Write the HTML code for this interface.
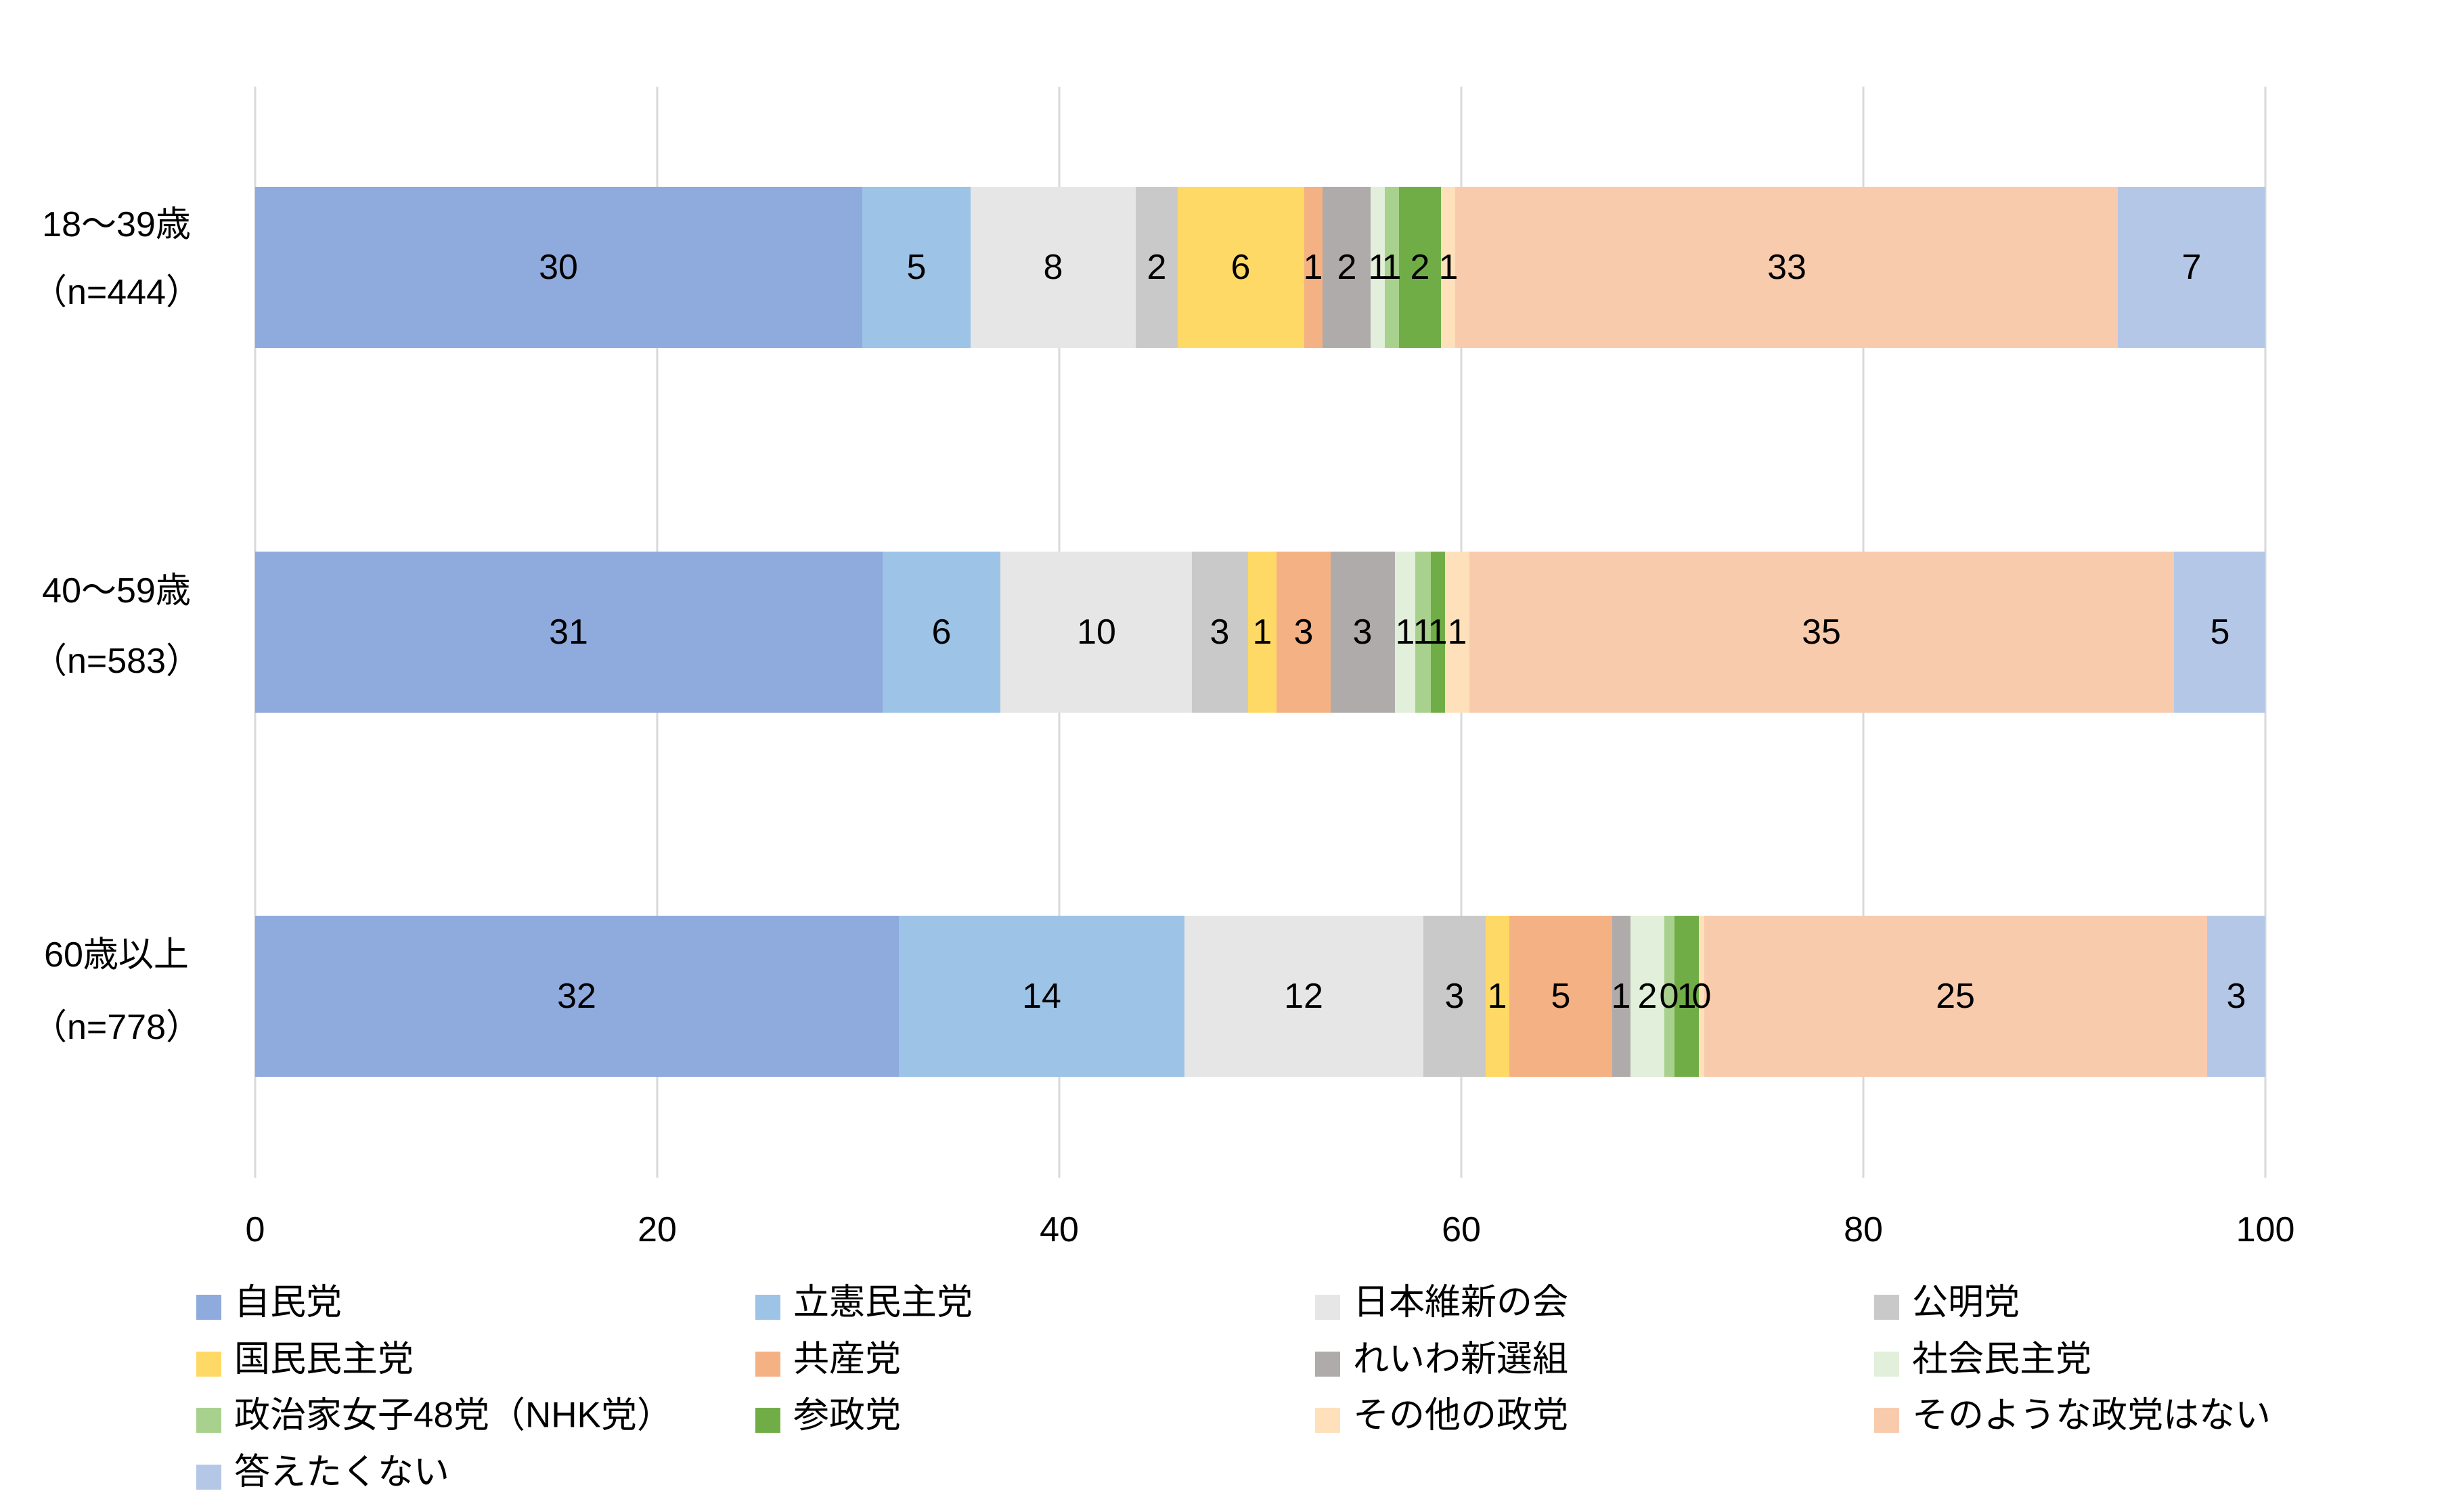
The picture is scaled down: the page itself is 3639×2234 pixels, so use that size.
<!DOCTYPE html>
<html><head><meta charset="utf-8"><style>
html,body{margin:0;padding:0;background:#fff}
svg text{font-family:"Liberation Sans","Noto Sans CJK JP",sans-serif;fill:#000}
</style></head><body>
<svg width="3639" height="2229" xmlns="http://www.w3.org/2000/svg">
<g stroke="#d9d9d9" stroke-width="3">
<line x1="377" y1="128" x2="377" y2="1740"/><line x1="971" y1="128" x2="971" y2="1740"/>
<line x1="1565" y1="128" x2="1565" y2="1740"/><line x1="2159" y1="128" x2="2159" y2="1740"/>
<line x1="2753" y1="128" x2="2753" y2="1740"/><line x1="3347" y1="128" x2="3347" y2="1740"/>
</g>
<g>
<rect x="377" y="276" width="897" height="238" fill="#8faadc"/>
<rect x="1274" y="276" width="160" height="238" fill="#9dc3e6"/>
<rect x="1434" y="276" width="244" height="238" fill="#e6e6e6"/>
<rect x="1678" y="276" width="62" height="238" fill="#c9c9c9"/>
<rect x="1740" y="276" width="187" height="238" fill="#ffd966"/>
<rect x="1927" y="276" width="27" height="238" fill="#f4b183"/>
<rect x="1954" y="276" width="71" height="238" fill="#afabab"/>
<rect x="2025" y="276" width="21" height="238" fill="#e2efda"/>
<rect x="2046" y="276" width="21" height="238" fill="#a9d18e"/>
<rect x="2067" y="276" width="62" height="238" fill="#70ad47"/>
<rect x="2129" y="276" width="21" height="238" fill="#fee0bb"/>
<rect x="2150" y="276" width="979" height="238" fill="#f8cbad"/>
<rect x="3129" y="276" width="218" height="238" fill="#b4c7e7"/>
</g>
<g>
<rect x="377" y="815" width="927" height="238" fill="#8faadc"/>
<rect x="1304" y="815" width="174" height="238" fill="#9dc3e6"/>
<rect x="1478" y="815" width="283" height="238" fill="#e6e6e6"/>
<rect x="1761" y="815" width="83" height="238" fill="#c9c9c9"/>
<rect x="1844" y="815" width="42" height="238" fill="#ffd966"/>
<rect x="1886" y="815" width="80" height="238" fill="#f4b183"/>
<rect x="1966" y="815" width="95" height="238" fill="#afabab"/>
<rect x="2061" y="815" width="30" height="238" fill="#e2efda"/>
<rect x="2091" y="815" width="23" height="238" fill="#a9d18e"/>
<rect x="2114" y="815" width="21" height="238" fill="#70ad47"/>
<rect x="2135" y="815" width="36" height="238" fill="#fee0bb"/>
<rect x="2171" y="815" width="1041" height="238" fill="#f8cbad"/>
<rect x="3212" y="815" width="135" height="238" fill="#b4c7e7"/>
</g>
<g>
<rect x="377" y="1353" width="951" height="238" fill="#8faadc"/>
<rect x="1328" y="1353" width="422" height="238" fill="#9dc3e6"/>
<rect x="1750" y="1353" width="353" height="238" fill="#e6e6e6"/>
<rect x="2103" y="1353" width="92" height="238" fill="#c9c9c9"/>
<rect x="2195" y="1353" width="35" height="238" fill="#ffd966"/>
<rect x="2230" y="1353" width="152" height="238" fill="#f4b183"/>
<rect x="2382" y="1353" width="27" height="238" fill="#afabab"/>
<rect x="2409" y="1353" width="50" height="238" fill="#e2efda"/>
<rect x="2459" y="1353" width="15" height="238" fill="#a9d18e"/>
<rect x="2474" y="1353" width="36" height="238" fill="#70ad47"/>
<rect x="2510" y="1353" width="8" height="238" fill="#fee0bb"/>
<rect x="2518" y="1353" width="743" height="238" fill="#f8cbad"/>
<rect x="3261" y="1353" width="86" height="238" fill="#b4c7e7"/>
</g>
<g font-size="52" text-anchor="middle" dominant-baseline="central">
<text x="825" y="395">30</text><text x="1354" y="395">5</text><text x="1556" y="395">8</text>
<text x="1709" y="395">2</text><text x="1833" y="395">6</text><text x="1940" y="395">1</text>
<text x="1990" y="395">2</text><text x="2036" y="395">1</text><text x="2056" y="395">1</text>
<text x="2098" y="395">2</text><text x="2140" y="395">1</text><text x="2640" y="395">33</text><text x="3238" y="395">7</text>

<text x="840" y="934">31</text><text x="1391" y="934">6</text><text x="1620" y="934">10</text>
<text x="1802" y="934">3</text><text x="1865" y="934">1</text><text x="1926" y="934">3</text>
<text x="2013" y="934">3</text><text x="2076" y="934">1</text><text x="2102" y="934">1</text>
<text x="2124" y="934">1</text><text x="2153" y="934">1</text><text x="2691" y="934">35</text><text x="3280" y="934">5</text>

<text x="852" y="1472">32</text><text x="1539" y="1472">14</text><text x="1926" y="1472">12</text>
<text x="2149" y="1472">3</text><text x="2212" y="1472">1</text><text x="2306" y="1472">5</text>
<text x="2395" y="1472">1</text><text x="2434" y="1472">2</text><text x="2466" y="1472">0</text>
<text x="2492" y="1472">1</text><text x="2514" y="1472">0</text><text x="2889" y="1472">25</text><text x="3304" y="1472">3</text>
</g>
<g font-size="52" text-anchor="middle" dominant-baseline="central">
<text x="172" y="332">18～39歳</text><text x="172" y="432">（n=444）</text>
<text x="172" y="873">40～59歳</text><text x="172" y="977">（n=583）</text>
<text x="172" y="1411">60歳以上</text><text x="172" y="1518">（n=778）</text>
<text x="377" y="1817">0</text><text x="971" y="1817">20</text><text x="1565" y="1817">40</text>
<text x="2159" y="1817">60</text><text x="2753" y="1817">80</text><text x="3347" y="1817">100</text>
</g>
<g font-size="53" dominant-baseline="central">
<rect x="290" y="1913" width="37" height="37" fill="#8faadc"/><text x="346" y="1924">自民党</text>
<rect x="1116" y="1913" width="37" height="37" fill="#9dc3e6"/><text x="1172" y="1924">立憲民主党</text>
<rect x="1943" y="1913" width="37" height="37" fill="#e6e6e6"/><text x="1999" y="1924">日本維新の会</text>
<rect x="2769" y="1913" width="37" height="37" fill="#c9c9c9"/><text x="2825" y="1924">公明党</text>
<rect x="290" y="1997" width="37" height="37" fill="#ffd966"/><text x="346" y="2008">国民民主党</text>
<rect x="1116" y="1997" width="37" height="37" fill="#f4b183"/><text x="1172" y="2008">共産党</text>
<rect x="1943" y="1997" width="37" height="37" fill="#afabab"/><text x="1999" y="2008">れいわ新選組</text>
<rect x="2769" y="1997" width="37" height="37" fill="#e2efda"/><text x="2825" y="2008">社会民主党</text>
<rect x="290" y="2080" width="37" height="37" fill="#a9d18e"/><text x="346" y="2091">政治家女子48党（NHK党）</text>
<rect x="1116" y="2080" width="37" height="37" fill="#70ad47"/><text x="1172" y="2091">参政党</text>
<rect x="1943" y="2080" width="37" height="37" fill="#fee0bb"/><text x="1999" y="2091">その他の政党</text>
<rect x="2769" y="2080" width="37" height="37" fill="#f8cbad"/><text x="2825" y="2091">そのような政党はない</text>
<rect x="290" y="2164" width="37" height="37" fill="#b4c7e7"/><text x="346" y="2175">答えたくない</text>
</g>
</svg>
</body></html>
